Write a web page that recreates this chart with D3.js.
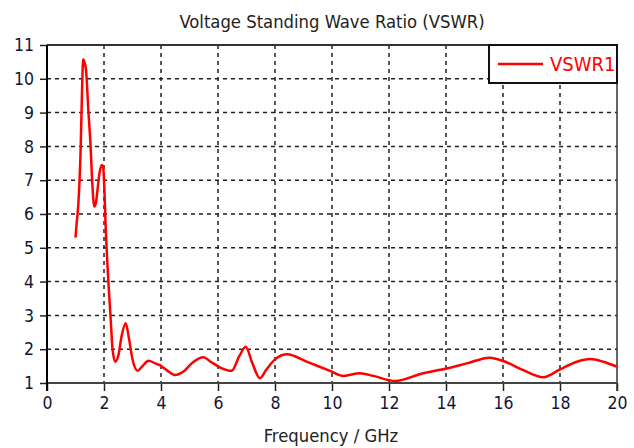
<!DOCTYPE html>
<html>
<head>
<meta charset="utf-8">
<script src="https://cdn.jsdelivr.net/npm/d3@7"></script>
<style>
  body { margin: 0; background: #fff; }
  text { font-family: "DejaVu Sans Condensed", "DejaVu Sans", sans-serif; }
</style>
</head>
<body>
<div id="chart"></div>
<script>
// frequency (GHz) and VSWR
var freq = [1.0, 1.04, 1.10, 1.18, 1.23, 1.27, 1.31, 1.37, 1.45, 1.53, 1.59, 1.66, 1.72, 1.77, 1.84, 1.92, 1.97, 2.0, 2.06,
  2.15, 2.23, 2.3, 2.39, 2.5, 2.62, 2.76, 2.88, 3.0, 3.18, 3.35, 3.56, 3.8, 3.96, 4.2, 4.49, 4.8, 5.1, 5.49, 5.74, 6.1, 6.48,
  6.75, 6.97, 7.2, 7.47, 7.7, 8.0, 8.43, 9.11, 9.93, 10.4, 10.98, 11.45, 12.21, 13.2, 14.02, 14.73, 15.54, 16.01, 16.71,
  17.41, 18.0, 18.59, 19.05, 19.52, 20.0];
var vswr = [5.3, 5.72, 6.3, 7.9, 9.67, 10.58, 10.5, 10.26, 9.08, 7.99, 6.9, 6.22, 6.35, 6.7, 7.2, 7.45, 7.4, 7.0, 5.6,
  4.05, 2.96, 2.0, 1.63, 1.8, 2.4, 2.77, 2.3, 1.7, 1.36, 1.5, 1.66, 1.58, 1.53, 1.38, 1.24, 1.35, 1.6, 1.76, 1.63, 1.45, 1.36,
  1.8, 2.07, 1.6, 1.14, 1.4, 1.70, 1.85, 1.63, 1.36, 1.21, 1.29, 1.21, 1.06, 1.29, 1.43, 1.58, 1.75, 1.65, 1.38,
  1.17, 1.40, 1.63, 1.71, 1.63, 1.48];
var xTicks = [0, 2, 4, 6, 8, 10, 12, 14, 16, 18, 20];
var yTicks = [1, 2, 3, 4, 5, 6, 7, 8, 9, 10, 11];

var svgWidth = 634, svgHeight = 448;
var plotLeft = 47, plotRight = 617, plotTop = 45, plotBottom = 383;

var svg = d3.select('#chart').append('svg')
  .attr('width', svgWidth)
  .attr('height', svgHeight);

var x = d3.scaleLinear().domain([0, 20]).range([plotLeft, plotRight]);
var y = d3.scaleLinear().domain([1, 11]).range([plotBottom, plotTop]);

// grid
svg.append('g').selectAll('line')
  .data(xTicks.slice(1, -1))
  .enter().append('line')
  .attr('x1', d => x(d)).attr('x2', d => x(d))
  .attr('y1', plotTop).attr('y2', plotBottom)
  .attr('stroke', '#222').attr('stroke-width', 1.5)
  .attr('stroke-dasharray', '4,4');

svg.append('g').selectAll('line')
  .data(yTicks.slice(1, -1))
  .enter().append('line')
  .attr('x1', plotLeft).attr('x2', plotRight)
  .attr('y1', d => y(d)).attr('y2', d => y(d))
  .attr('stroke', '#222').attr('stroke-width', 1.5)
  .attr('stroke-dasharray', '4,4');

// axes
var xAxis = svg.append('g')
  .attr('transform', 'translate(0,' + plotBottom + ')')
  .call(d3.axisBottom(x).tickValues(xTicks).tickSize(8).tickPadding(6));
var yAxis = svg.append('g')
  .attr('transform', 'translate(' + plotLeft + ',0)')
  .call(d3.axisLeft(y).tickValues(yTicks).tickSize(7).tickPadding(6));

[xAxis, yAxis].forEach(function(a) {
  a.select('.domain').remove();
  a.selectAll('line').attr('stroke', '#222').attr('stroke-width', 1.5);
  a.selectAll('text')
    .attr('font-size', '17.5px')
    .attr('fill', '#141433')
    .style('font-family', '"DejaVu Sans Condensed", "DejaVu Sans", sans-serif');
});

// frame
svg.append('line').attr('x1', plotLeft).attr('x2', plotRight).attr('y1', plotTop).attr('y2', plotTop)
  .attr('stroke', '#333').attr('stroke-width', 2);
svg.append('line').attr('x1', plotRight).attr('x2', plotRight).attr('y1', plotTop).attr('y2', plotBottom + 8)
  .attr('stroke', '#333').attr('stroke-width', 1.5);
svg.append('line').attr('x1', plotLeft).attr('x2', plotRight).attr('y1', plotBottom).attr('y2', plotBottom)
  .attr('stroke', '#444').attr('stroke-width', 2);
svg.append('line').attr('x1', plotLeft).attr('x2', plotLeft).attr('y1', plotTop).attr('y2', plotBottom + 8)
  .attr('stroke', '#000').attr('stroke-width', 2);

// curve
var pts = freq.map(function(f, i) { return [f, vswr[i]]; });
var line = d3.line()
  .x(d => x(d[0]))
  .y(d => y(d[1]))
  .curve(d3.curveMonotoneX);
svg.append('path')
  .datum(pts)
  .attr('d', line)
  .attr('fill', 'none')
  .attr('stroke', '#ff0000')
  .attr('stroke-width', 2.5);

// title and axis label
svg.append('text')
  .attr('x', 332).attr('y', 28)
  .attr('text-anchor', 'middle')
  .attr('font-size', '18.3px')
  .attr('fill', '#222')
  .text('Voltage Standing Wave Ratio (VSWR)');

svg.append('text')
  .attr('x', 331).attr('y', 442)
  .attr('text-anchor', 'middle')
  .attr('font-size', '18.3px')
  .attr('fill', '#222')
  .text('Frequency / GHz');

// legend
svg.append('rect')
  .attr('x', 489).attr('y', 45)
  .attr('width', 128).attr('height', 38)
  .attr('fill', '#fff')
  .attr('stroke', '#111').attr('stroke-width', 2);
svg.append('line')
  .attr('x1', 498).attr('x2', 543).attr('y1', 64).attr('y2', 64)
  .attr('stroke', '#ff0000').attr('stroke-width', 2.5);
svg.append('text')
  .attr('x', 550).attr('y', 71)
  .attr('font-size', '20px')
  .attr('fill', '#ff0000')
  .text('VSWR1');
</script>
</body>
</html>
